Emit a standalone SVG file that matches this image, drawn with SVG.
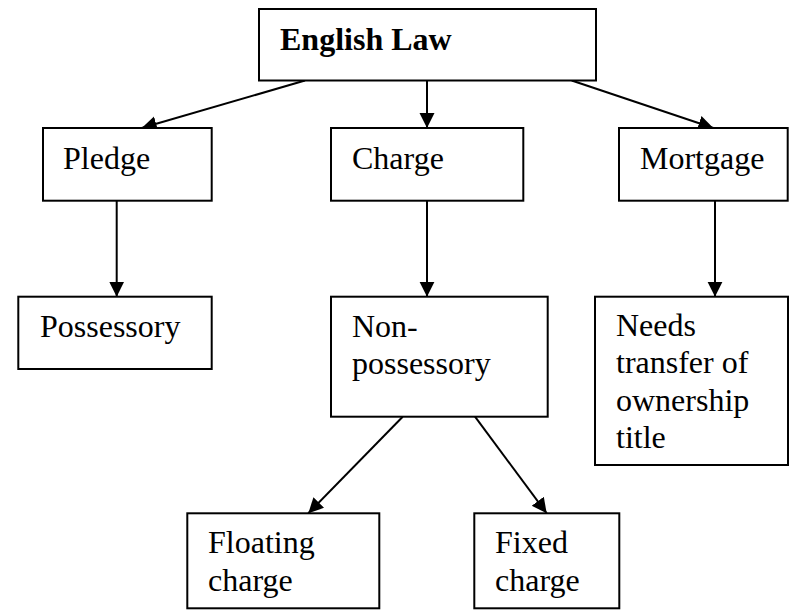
<svg xmlns="http://www.w3.org/2000/svg" width="789" height="610" viewBox="0 0 789 610">
  <style>
    .box { fill: #ffffff; stroke: #000000; stroke-width: 2; }
    .lbl { font-family: 'Times New Roman', 'Liberation Serif', serif; font-size: 32px; fill: #000000; }
    .bold { font-weight: bold; }
    .edge { stroke: #000000; stroke-width: 2; fill: none; marker-end: url(#arrow); }
  </style>
  <defs>
    <marker id="arrow" markerUnits="userSpaceOnUse" markerWidth="16" markerHeight="16" refX="15" refY="7.5" orient="auto">
      <path d="M0,0 L15,7.5 L0,15 z" fill="#000000"/>
    </marker>
  </defs>
  <rect width="789" height="610" fill="#ffffff"/>

  <g id="connectors">
    <line class="edge" x1="305" y1="80.5" x2="141.7" y2="128"/>
    <line class="edge" x1="427" y1="80.5" x2="427" y2="128"/>
    <line class="edge" x1="571.7" y1="80.5" x2="713.3" y2="128"/>
    <line class="edge" x1="116.7" y1="200.7" x2="116.7" y2="296.7"/>
    <line class="edge" x1="427" y1="200.7" x2="427" y2="296.7"/>
    <line class="edge" x1="715" y1="200.7" x2="715" y2="296.7"/>
    <line class="edge" x1="402.7" y1="416.7" x2="308.3" y2="513.3"/>
    <line class="edge" x1="475" y1="416.7" x2="546.7" y2="513.3"/>
  </g>

  <g id="english-law">
    <rect class="box" x="259" y="9" width="337" height="71.5"/>
    <text class="lbl bold" x="280" y="50">English Law</text>
  </g>
  <g id="pledge">
    <rect class="box" x="43" y="128" width="168.7" height="72.7"/>
    <text class="lbl" x="63" y="169">Pledge</text>
  </g>
  <g id="charge">
    <rect class="box" x="331" y="128" width="192.3" height="72.7"/>
    <text class="lbl" x="352" y="169">Charge</text>
  </g>
  <g id="mortgage">
    <rect class="box" x="619" y="128" width="168.7" height="72.7"/>
    <text class="lbl" x="640" y="169">Mortgage</text>
  </g>
  <g id="possessory">
    <rect class="box" x="18.3" y="296.7" width="193.4" height="72.3"/>
    <text class="lbl" x="40" y="337">Possessory</text>
  </g>
  <g id="non-possessory">
    <rect class="box" x="331" y="296.7" width="216.7" height="120"/>
    <text class="lbl" x="352" y="337">Non-</text>
    <text class="lbl" x="352" y="374">possessory</text>
  </g>
  <g id="needs-transfer">
    <rect class="box" x="595" y="296.7" width="193" height="168.3"/>
    <text class="lbl" x="616" y="336">Needs</text>
    <text class="lbl" x="616" y="373">transfer of</text>
    <text class="lbl" x="616" y="410.5">ownership</text>
    <text class="lbl" x="616" y="448">title</text>
  </g>
  <g id="floating-charge">
    <rect class="box" x="187.3" y="513.3" width="192" height="95"/>
    <text class="lbl" x="208" y="553">Floating</text>
    <text class="lbl" x="208" y="590.5">charge</text>
  </g>
  <g id="fixed-charge">
    <rect class="box" x="474.3" y="513.3" width="145" height="95"/>
    <text class="lbl" x="495" y="553">Fixed</text>
    <text class="lbl" x="495" y="590.5">charge</text>
  </g>
</svg>
